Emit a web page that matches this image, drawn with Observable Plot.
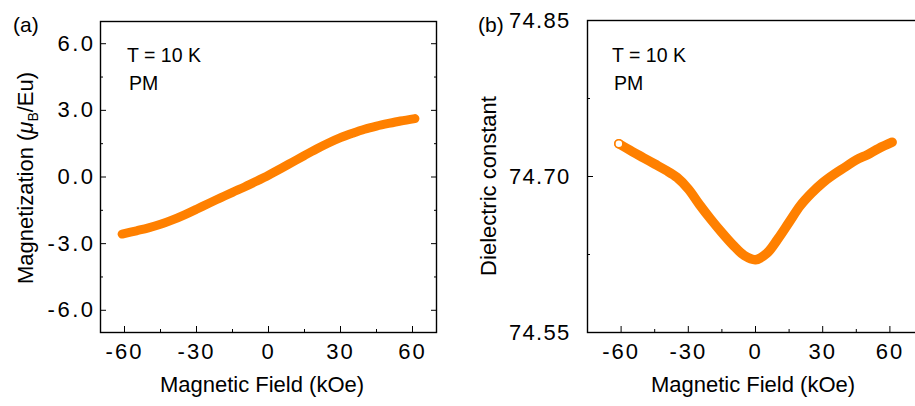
<!DOCTYPE html>
<html><head><meta charset="utf-8">
<script src="https://cdn.jsdelivr.net/npm/d3@7"></script>
<script src="https://cdn.jsdelivr.net/npm/@observablehq/plot@0.6"></script>
<style>
html,body{margin:0;padding:0;background:#fff;width:915px;height:406px;overflow:hidden;}
#wrap{position:relative;width:915px;height:406px;overflow:hidden;font-family:"Liberation Sans",Arial,sans-serif;}
#pa{position:absolute;left:0;top:0;width:460px;height:406px;}
#pb{position:absolute;left:460px;top:0;width:455px;height:406px;overflow:hidden;}
svg{max-width:none !important;}
</style></head><body><div id="wrap"><div id="pa"></div><div id="pb"></div></div>
<script>
// Panel (a): magnetization vs field
const fieldA = [-61,-55,-50,-45,-40,-35,-30,-25,-20,-15,-10,-5,0,5,10,15,20,25,30,35,40,45,50,55,61];
const magnetization = [-2.57,-2.42,-2.29,-2.13,-1.93,-1.70,-1.45,-1.19,-0.94,-0.69,-0.45,-0.19,0.08,0.37,0.67,0.97,1.26,1.53,1.77,1.97,2.15,2.29,2.41,2.52,2.63];
// Panel (b): dielectric constant vs field
const fieldB = [-61,-55,-50,-45,-40,-35,-30,-25,-20,-15,-10,-5,0,5,10,15,20,25,30,35,40,45,50,55,61];
const dielectric = [74.7315,74.724,74.718,74.712,74.706,74.699,74.688,74.673,74.659,74.646,74.634,74.624,74.620,74.626,74.640,74.656,74.672,74.684,74.694,74.702,74.709,74.716,74.721,74.727,74.733];
// Ticks
const xTicks = [-60,-30,0,30,60];
const xMinor = [-45,-15,15,45];
const yTicksA = [-6,-3,0,3,6];
const yMinorA = [-4.5,-1.5,1.5,4.5];
const yTicksB = [74.55,74.70,74.85];
const yMinorB = [74.625,74.775];
const labelsA = {panel:"(a)", note1:"T = 10 K", note2:"PM", xTitle:"Magnetic Field (kOe)"};
const labelsB = {panel:"(b)", note1:"T = 10 K", note2:"PM", xTitle:"Magnetic Field (kOe)", yTitle:"Dielectric constant"};

const orange = "#ff8000";
const font = "Liberation Sans, Arial, sans-serif";
const tickFont = 22;
const dataA = fieldA.map((h,i)=>({h, v: magnetization[i]}));
const dataB = fieldB.map((h,i)=>({h, v: dielectric[i]}));

const none = () => "";
function tickAxes(anchorsY, yMajor, yMinor){
  const m = [
    Plot.axisX({ticks: xTicks, tickSize:-6, tickFormat:none, label:null}),
    Plot.axisX({ticks: xMinor, tickSize:-3, tickFormat:none, label:null})
  ];
  for (const a of anchorsY){
    m.push(Plot.axisY({ticks: yMajor, anchor:a, tickSize:-6, tickFormat:none, label:null}));
    m.push(Plot.axisY({ticks: yMinor, anchor:a, tickSize:-3, tickFormat:none, label:null}));
  }
  return m;
}

const plotA = Plot.plot({
  width:460, height:406, marginLeft:100, marginRight:24, marginTop:21, marginBottom:74,
  style:{fontFamily:font, fontSize:tickFont+"px", color:"#000", background:"transparent", overflow:"visible", maxWidth:"none"},
  x:{domain:[-70,70]}, y:{domain:[-7,7]},
  marks:[
    Plot.line(dataA, {x:"h", y:"v", stroke:orange, strokeWidth:9, curve:"catmull-rom", strokeLinecap:"round"}),
    Plot.frame({stroke:"#000", strokeWidth:1.4}),
    Plot.axisX({ticks:xTicks, tickSize:0, tickPadding:11, tickFormat:d=>String(d), label:null, fontSize:tickFont}),
    Plot.axisY({ticks:yTicksA, tickSize:0, tickPadding:5, tickFormat:d=>d.toFixed(1), label:null, fontSize:tickFont}),
    ...tickAxes(["left","right"], yTicksA, yMinorA)
  ]
});

const plotB = Plot.plot({
  width:500, height:406, marginLeft:127, marginRight:37, marginTop:20, marginBottom:74,
  style:{fontFamily:font, fontSize:tickFont+"px", color:"#000", background:"transparent", overflow:"visible", maxWidth:"none"},
  x:{domain:[-75,75]}, y:{domain:[74.55,74.85]},
  marks:[
    Plot.line(dataB, {x:"h", y:"v", stroke:orange, strokeWidth:9.5, curve:"catmull-rom", strokeLinecap:"round"}),
    Plot.dot([dataB[0]], {x:"h", y:"v", r:4, fill:"white", stroke:orange, strokeWidth:1.6}),
    Plot.frame({stroke:"#000", strokeWidth:1.4}),
    Plot.axisX({ticks:xTicks, tickSize:0, tickPadding:11, tickFormat:d=>String(d), label:null, fontSize:tickFont}),
    Plot.axisY({ticks:yTicksB, tickSize:0, tickPadding:17, tickFormat:d=>d.toFixed(2), label:null, fontSize:tickFont}),
    ...tickAxes(["left"], yTicksB, yMinorB)
  ]
});

document.getElementById("pa").appendChild(plotA);
document.getElementById("pb").appendChild(plotB);

function styleTicks(svg, lsX, lsY){
  d3.select(svg).selectAll('g[aria-label="x-axis tick label"] text').attr("font-size", tickFont).style("letter-spacing", lsX+"px");
  d3.select(svg).selectAll('g[aria-label="y-axis tick label"] text').attr("font-size", tickFont).style("letter-spacing", lsY+"px");
}
styleTicks(plotA, 2, 2.5);
styleTicks(plotB, 2, 1.3);

function addText(svg, txt, x, y, size, anchor){
  return d3.select(svg).append("text").attr("x", x).attr("y", y)
    .attr("font-family", font).attr("font-size", size).attr("fill", "#000")
    .attr("text-anchor", anchor || "start").text(txt);
}

// Panel (a) texts
addText(plotA, labelsA.panel, 13, 32, 21);
addText(plotA, labelsA.note1, 127, 62, 19.5);
addText(plotA, labelsA.note2, 129, 90, 19.5);
addText(plotA, labelsA.xTitle, 262, 392, 22, "middle");
{
  const t = d3.select(plotA).append("text")
    .attr("transform", "translate(33,178) rotate(-90)")
    .attr("font-family", font).attr("font-size", 22).attr("fill", "#000").attr("text-anchor", "middle");
  t.append("tspan").text("Magnetization (");
  t.append("tspan").attr("font-style", "italic").text("\u03bc");
  t.append("tspan").attr("font-size", 14).attr("dy", 5).text("B");
  t.append("tspan").attr("dy", -5).text("/Eu)");
}

// Panel (b) texts
addText(plotB, labelsB.panel, 18, 32, 21);
addText(plotB, labelsB.note1, 152, 62, 19.5);
addText(plotB, labelsB.note2, 154, 90, 19.5);
addText(plotB, labelsB.xTitle, 293, 392, 22, "middle");
d3.select(plotB).append("text")
  .attr("transform", "translate(36,186) rotate(-90)")
  .attr("font-family", font).attr("font-size", 22).attr("fill", "#000").attr("text-anchor", "middle")
  .text(labelsB.yTitle);
</script></body></html>
